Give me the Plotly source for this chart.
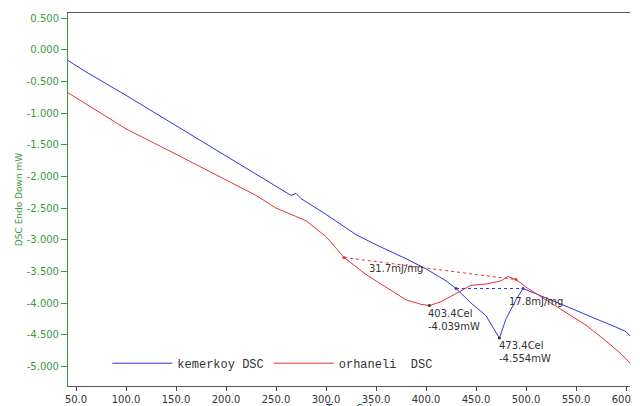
import plotly.graph_objects as go

# kemerkoy DSC
temp_k = [42, 60, 100, 150, 200, 250, 265, 270, 275, 300, 330, 350, 380, 400, 420, 430,
          445, 460, 473.4, 480, 490, 497, 510, 520, 540, 550, 570, 590, 600, 604]
dsc_k = [-0.17, -0.35, -0.72, -1.2, -1.68, -2.15, -2.3, -2.27, -2.35, -2.6, -2.92, -3.08,
         -3.3, -3.46, -3.65, -3.77, -4.0, -4.2, -4.554, -4.25, -3.95, -3.77, -3.85, -3.92,
         -4.05, -4.12, -4.25, -4.38, -4.45, -4.52]
# orhaneli DSC
temp_o = [42, 60, 100, 150, 200, 230, 250, 280, 300, 318, 340, 360, 380, 395, 403.4, 415,
          430, 445, 460, 475, 482, 490, 500, 510, 520, 540, 560, 580, 595, 604]
dsc_o = [-0.68, -0.86, -1.25, -1.65, -2.05, -2.3, -2.5, -2.7, -2.95, -3.28, -3.55, -3.75,
         -3.95, -4.02, -4.039, -3.98, -3.85, -3.72, -3.7, -3.65, -3.58, -3.63, -3.75, -3.85,
         -3.95, -4.15, -4.35, -4.6, -4.8, -4.95]
base_o_t, base_o_v = [318, 490], [-3.28, -3.63]
base_k_t, base_k_v = [430, 497], [-3.77, -3.77]

blue, red, green = "#3333dd", "#e63333", "#3a9a3a"
fig = go.Figure()
fig.add_trace(go.Scatter(x=temp_k, y=dsc_k, mode="lines", name="kemerkoy DSC",
                         line=dict(color=blue, width=1)))
fig.add_trace(go.Scatter(x=temp_o, y=dsc_o, mode="lines", name="orhaneli  DSC",
                         line=dict(color=red, width=1)))
fig.add_trace(go.Scatter(x=base_o_t, y=base_o_v, mode="lines+markers", showlegend=False,
                         line=dict(color=red, width=1, dash="dot"), marker=dict(size=3, color=red)))
fig.add_trace(go.Scatter(x=base_k_t, y=base_k_v, mode="lines+markers", showlegend=False,
                         line=dict(color=blue, width=1, dash="dot"), marker=dict(size=3, color=blue)))
fig.add_trace(go.Scatter(x=[403.4, 473.4], y=[-4.039, -4.554], mode="markers", showlegend=False,
                         marker=dict(size=3, color="#333")))

notes = [(370, -3.45, "31.7mJ/mg"), (510, -3.97, "17.8mJ/mg"),
         (400, -4.27, "403.4Cel<br>-4.039mW"), (471, -4.78, "473.4Cel<br>-4.554mW")]
for x, y, t in notes:
    fig.add_annotation(x=x, y=y, text=t, showarrow=False, xanchor="left" if "Cel" in t else "center",
                       align="left", font=dict(size=10, color="#333"))

fig.update_layout(
    width=640, height=406, paper_bgcolor="white", plot_bgcolor="white",
    margin=dict(l=60, r=18, t=5, b=28),
    font=dict(family="DejaVu Sans", size=10),
    legend=dict(x=0.07, y=0.1, orientation="h", bgcolor="rgba(0,0,0,0)",
                font=dict(family="Liberation Mono", size=12, color="#333"), itemwidth=60),
    xaxis=dict(range=[42, 604], tickvals=[50 * i for i in range(1, 13)],
               ticktext=[f"{50 * i:.1f}" for i in range(1, 13)], ticks="outside", ticklen=4,
               showgrid=False, zeroline=False, showline=True, linecolor="#555", mirror=True,
               automargin=False,
               title=dict(text="Temp Cel", standoff=0, font=dict(size=10)), tickfont=dict(size=10, color="#333")),
    yaxis=dict(range=[-5.31, 0.58], tickvals=[0.5 - 0.5 * i for i in range(12)],
               ticktext=[f"{0.5 - 0.5 * i:.3f}" for i in range(12)], ticks="outside", ticklen=6,
               showgrid=False, zeroline=False, showline=True, linecolor=green, tickcolor=green,
               automargin=False,
               title=dict(text="DSC Endo Down mW", standoff=2, font=dict(size=9, color=green)),
               tickfont=dict(size=10, color=green)),
)
fig.write_html("out.html")
